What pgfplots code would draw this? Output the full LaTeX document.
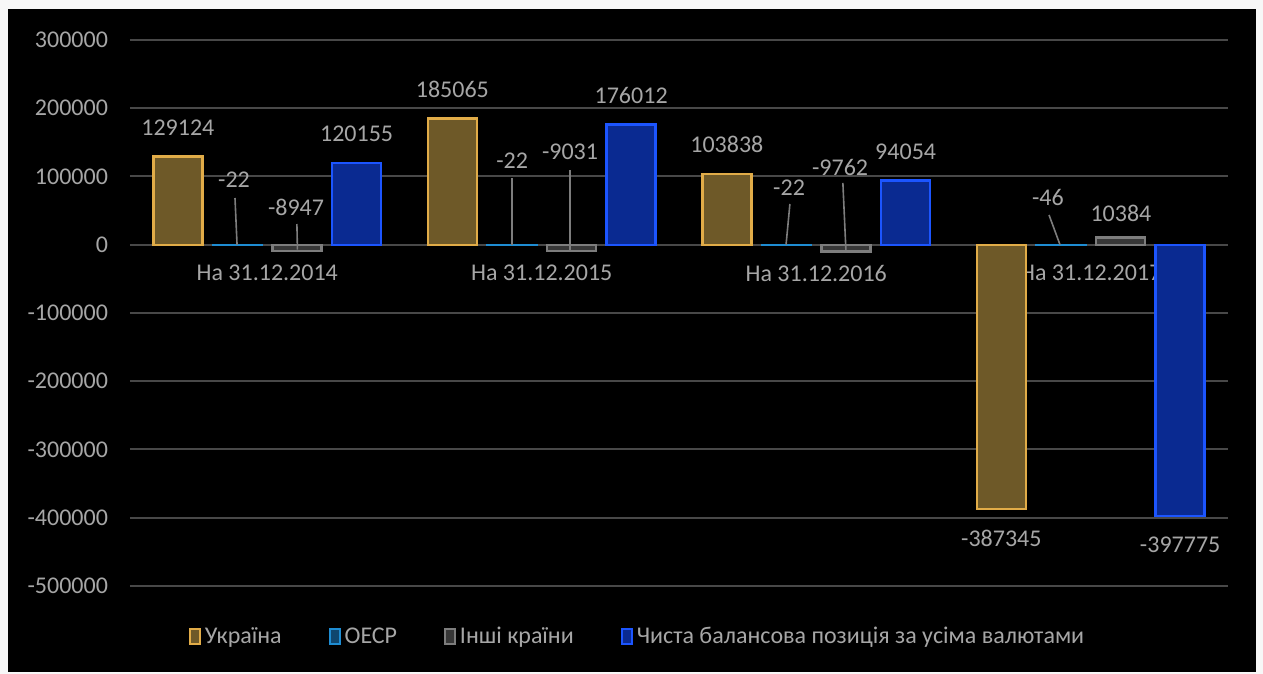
\documentclass[border=0pt]{standalone}
\usepackage{fontspec}
\setmainfont{Carlito}
\usepackage{pgfplots}
\pgfplotsset{compat=1.18}
\definecolor{txt}{RGB}{166,166,166}
\definecolor{gridc}{RGB}{72,72,72}
\definecolor{ukrF}{RGB}{110,89,40}
\definecolor{ukrD}{RGB}{225,172,72}
\definecolor{oecdF}{RGB}{15,70,110}
\definecolor{oecdD}{RGB}{30,140,210}
\definecolor{othF}{RGB}{55,55,55}
\definecolor{othD}{RGB}{125,125,125}
\definecolor{netF}{RGB}{10,42,145}
\definecolor{netD}{RGB}{28,85,255}
\definecolor{leader}{RGB}{125,125,125}
\newcommand{\lf}{\fontsize{12}{14}\selectfont}
\begin{document}
\begin{tikzpicture}
\fill[white!94!gray] (-65pt,-44pt) rectangle (566.5pt,293pt);
\fill[black] (-61pt,-43pt) rectangle (563pt,288.5pt);
\begin{axis}[
  at={(0pt,0pt)}, anchor=south west,
  scale only axis, width=549pt, height=273pt,
  xmin=-0.5, xmax=3.5, ymin=-500000, ymax=300000,
  ytick={-500000,-400000,-300000,-200000,-100000,0,100000,200000,300000},
  xtick={0,1,2,3},
  xticklabels={На 31.12.2014,На 31.12.2015,На 31.12.2016,На 31.12.2017},
  ymajorgrids, grid style={gridc, line width=1pt},
  axis line style={draw=none}, major tick length=0pt,
  scaled y ticks=false,
  /pgf/number format/fixed, /pgf/number format/precision=0,
  /pgf/number format/1000 sep={}, /pgf/number format/assume math mode=true,
  tick label style={font=\lf, text=txt},
  yticklabel style={xshift=-7.5pt},
  xticklabel style={anchor=center, yshift=156.5pt},
  ybar=5.3pt, bar width=24.5pt,
  every node near coord/.append style={font=\lf, text=txt, inner sep=9.8pt, draw=none, fill=none},
  legend style={at={(0.4631,-0.0934)}, anchor=center, draw=none, fill=none,
    text=txt, font=\lf, legend columns=4,
    /tikz/every even column/.append style={column sep=21.5pt}},
  legend image code/.code={\draw[#1, line width=1pt] (0pt,-3.6pt) rectangle (5pt,3.8pt);},
]
\addplot[fill=ukrF, draw=ukrD, line width=1.2pt, nodes near coords]
  coordinates {(0,129124) (1,185065) (2,103838) (3,-387345)};
\addplot[fill=oecdF, draw=oecdD, line width=1.2pt]
  coordinates {(0,-22) (1,-22) (2,-22) (3,-46)};
\addplot[fill=othF, draw=othD, line width=1.2pt]
  coordinates {(0,-8947) (1,-9031) (2,-9762) (3,10384)};
\addplot[fill=netF, draw=netD, line width=1.2pt, nodes near coords]
  coordinates {(0,120155) (1,176012) (2,94054) (3,-397775)};
\legend{Україна, ОЕСР, Інші країни, Чиста балансова позиція за усіма валютами}
% leader lines and labels for the small values
\draw[leader, line width=0.8pt] (axis cs:-0.1175,68500) -- (axis cs:-0.110,0);
\node[text=txt, font=\lf, inner sep=0pt] at (axis cs:-0.121,94870) {-22};
\draw[leader, line width=0.8pt] (axis cs:0.108,30400) -- (axis cs:0.110,-7000);
\node[text=txt, font=\lf, inner sep=0pt] at (axis cs:0.105,55310) {-8947};
\draw[leader, line width=0.8pt] (axis cs:0.892,97800) -- (axis cs:0.892,0);
\node[text=txt, font=\lf, inner sep=0pt] at (axis cs:0.892,122710) {-22};
\draw[leader, line width=0.8pt] (axis cs:1.103,109500) -- (axis cs:1.103,-7700);
\node[text=txt, font=\lf, inner sep=0pt] at (axis cs:1.103,135900) {-9031};
\draw[leader, line width=0.8pt] (axis cs:1.904,59700) -- (axis cs:1.890,0);
\node[text=txt, font=\lf, inner sep=0pt] at (axis cs:1.901,83150) {-22};
\draw[leader, line width=0.8pt] (axis cs:2.097,90500) -- (axis cs:2.108,-7700);
\node[text=txt, font=\lf, inner sep=0pt] at (axis cs:2.087,113920) {-9762};
\draw[leader, line width=0.8pt] (axis cs:2.848,43600) -- (axis cs:2.888,0);
\node[text=txt, font=\lf, inner sep=0pt] at (axis cs:2.844,69960) {-46};
\node[text=txt, font=\lf, inner sep=0pt] at (axis cs:3.110,46520) {10384};
\end{axis}
\end{tikzpicture}
\end{document}
